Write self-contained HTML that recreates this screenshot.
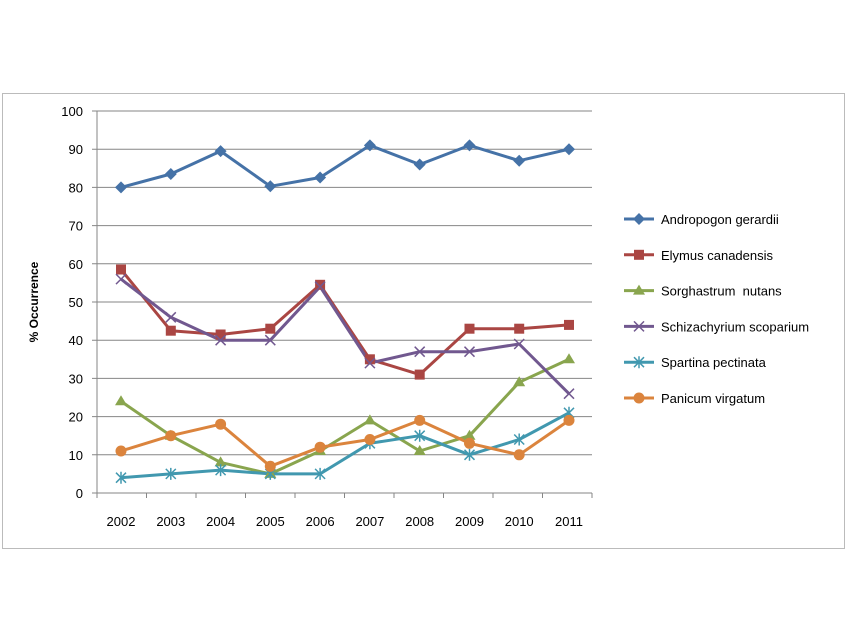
<!DOCTYPE html>
<html><head><style>body{margin:0;background:#fff}svg{display:block}text{font-family:"Liberation Sans",sans-serif;font-size:13px;fill:#000}</style></head>
<body>
<svg width="848" height="636" xmlns="http://www.w3.org/2000/svg">
<defs>
<path id="md" d="M0 -6l6 6-6 6-6-6z" fill="#4572A7"/>
<rect id="ms" x="-5" y="-5" width="10" height="10" fill="#AA4643"/>
<path id="mt" d="M0 -6l6 10h-12z" fill="#89A54E"/>
<path id="mx" d="M-5 -5l10 10m0-10l-10 10" stroke="#71588F" stroke-width="1.5"/>
<path id="ma" d="M-5 -5l10 10m0-10l-10 10M0 -6v12" stroke="#4198AF" stroke-width="1.5"/>
<circle id="mc" r="5.5" fill="#DB843D"/>
</defs>
<rect x="2.5" y="93.5" width="842" height="455" fill="#fff" stroke="#bbb"/>
<g stroke="#868686" stroke-width="1">
<path d="M97 454.8H592M97 416.6H592M97 378.4H592M97 340.2H592M97 302H592M97 263.8H592M97 225.6H592M97 187.4H592M97 149.2H592M97 111H592"/>
<path d="M92 493H592M92 454.8H97M92 416.6H97M92 378.4H97M92 340.2H97M92 302H97M92 263.8H97M92 225.6H97M92 187.4H97M92 149.2H97M92 111H97M97 111V498"/>
<path d="M146.5 493v5M196 493v5M245.5 493v5M295 493v5M344.5 493v5M394 493v5M443.5 493v5M493 493v5M542.5 493v5M592 493v5"/>
</g>
<g text-anchor="end">
<text x="83" y="498">0</text><text x="83" y="459.8">10</text><text x="83" y="421.6">20</text><text x="83" y="383.4">30</text><text x="83" y="345.2">40</text><text x="83" y="307">50</text><text x="83" y="268.8">60</text><text x="83" y="230.6">70</text><text x="83" y="192.4">80</text><text x="83" y="154.2">90</text><text x="83" y="116">100</text>
</g>
<g text-anchor="middle">
<text x="121" y="526">2002</text><text x="170.8" y="526">2003</text><text x="220.6" y="526">2004</text><text x="270.3" y="526">2005</text><text x="320.1" y="526">2006</text><text x="369.9" y="526">2007</text><text x="419.7" y="526">2008</text><text x="469.5" y="526">2009</text><text x="519.2" y="526">2010</text><text x="569" y="526">2011</text>
</g>
<text transform="translate(38,302) rotate(-90)" text-anchor="middle" style="font-weight:bold;font-size:12px">% Occurrence</text>
<g fill="none" stroke-width="3" stroke-linejoin="round">
<polyline stroke="#4572A7" points="121,187.4 170.8,174 220.6,151.1 270.3,186.3 320.1,177.5 369.9,145.4 419.7,164.5 469.5,145.4 519.2,160.7 569,149.2"/>
<polyline stroke="#AA4643" points="121,269.5 170.8,330.7 220.6,334.5 270.3,328.7 320.1,284.8 369.9,359.3 419.7,374.6 469.5,328.7 519.2,328.7 569,324.9"/>
<polyline stroke="#89A54E" points="121,401.3 170.8,435.7 220.6,462.4 270.3,473.9 320.1,451 369.9,420.4 419.7,451 469.5,435.7 519.2,382.2 569,359.3"/>
<polyline stroke="#71588F" points="121,279.1 170.8,317.3 220.6,340.2 270.3,340.2 320.1,286.7 369.9,363.1 419.7,351.7 469.5,351.7 519.2,344 569,393.7"/>
<polyline stroke="#4198AF" points="121,477.7 170.8,473.9 220.6,470.1 270.3,473.9 320.1,473.9 369.9,443.3 419.7,435.7 469.5,454.8 519.2,439.5 569,412.8"/>
<polyline stroke="#DB843D" points="121,451 170.8,435.7 220.6,424.2 270.3,466.3 320.1,447.2 369.9,439.5 419.7,420.4 469.5,443.3 519.2,454.8 569,420.4"/>
</g>
<use href="#md" x="121" y="187.4"/><use href="#md" x="170.8" y="174"/><use href="#md" x="220.6" y="151.1"/><use href="#md" x="270.3" y="186.3"/><use href="#md" x="320.1" y="177.5"/><use href="#md" x="369.9" y="145.4"/><use href="#md" x="419.7" y="164.5"/><use href="#md" x="469.5" y="145.4"/><use href="#md" x="519.2" y="160.7"/><use href="#md" x="569" y="149.2"/>
<use href="#ms" x="121" y="269.5"/><use href="#ms" x="170.8" y="330.7"/><use href="#ms" x="220.6" y="334.5"/><use href="#ms" x="270.3" y="328.7"/><use href="#ms" x="320.1" y="284.8"/><use href="#ms" x="369.9" y="359.3"/><use href="#ms" x="419.7" y="374.6"/><use href="#ms" x="469.5" y="328.7"/><use href="#ms" x="519.2" y="328.7"/><use href="#ms" x="569" y="324.9"/>
<use href="#mt" x="121" y="401.3"/><use href="#mt" x="170.8" y="435.7"/><use href="#mt" x="220.6" y="462.4"/><use href="#mt" x="270.3" y="473.9"/><use href="#mt" x="320.1" y="451"/><use href="#mt" x="369.9" y="420.4"/><use href="#mt" x="419.7" y="451"/><use href="#mt" x="469.5" y="435.7"/><use href="#mt" x="519.2" y="382.2"/><use href="#mt" x="569" y="359.3"/>
<use href="#mx" x="121" y="279.1"/><use href="#mx" x="170.8" y="317.3"/><use href="#mx" x="220.6" y="340.2"/><use href="#mx" x="270.3" y="340.2"/><use href="#mx" x="320.1" y="286.7"/><use href="#mx" x="369.9" y="363.1"/><use href="#mx" x="419.7" y="351.7"/><use href="#mx" x="469.5" y="351.7"/><use href="#mx" x="519.2" y="344"/><use href="#mx" x="569" y="393.7"/>
<use href="#ma" x="121" y="477.7"/><use href="#ma" x="170.8" y="473.9"/><use href="#ma" x="220.6" y="470.1"/><use href="#ma" x="270.3" y="473.9"/><use href="#ma" x="320.1" y="473.9"/><use href="#ma" x="369.9" y="443.3"/><use href="#ma" x="419.7" y="435.7"/><use href="#ma" x="469.5" y="454.8"/><use href="#ma" x="519.2" y="439.5"/><use href="#ma" x="569" y="412.8"/>
<use href="#mc" x="121" y="451"/><use href="#mc" x="170.8" y="435.7"/><use href="#mc" x="220.6" y="424.2"/><use href="#mc" x="270.3" y="466.3"/><use href="#mc" x="320.1" y="447.2"/><use href="#mc" x="369.9" y="439.5"/><use href="#mc" x="419.7" y="420.4"/><use href="#mc" x="469.5" y="443.3"/><use href="#mc" x="519.2" y="454.8"/><use href="#mc" x="569" y="420.4"/>
<g stroke-width="3">
<line x1="624" x2="654" y1="219" y2="219" stroke="#4572A7"/>
<line x1="624" x2="654" y1="254.8" y2="254.8" stroke="#AA4643"/>
<line x1="624" x2="654" y1="290.6" y2="290.6" stroke="#89A54E"/>
<line x1="624" x2="654" y1="326.4" y2="326.4" stroke="#71588F"/>
<line x1="624" x2="654" y1="362.2" y2="362.2" stroke="#4198AF"/>
<line x1="624" x2="654" y1="398" y2="398" stroke="#DB843D"/>
</g>
<use href="#md" x="639" y="219"/><use href="#ms" x="639" y="254.8"/><use href="#mt" x="639" y="290.6"/><use href="#mx" x="639" y="326.4"/><use href="#ma" x="639" y="362.2"/><use href="#mc" x="639" y="398"/>
<text x="661" y="224">Andropogon gerardii</text>
<text x="661" y="259.8">Elymus canadensis</text>
<text x="661" y="295.6" xml:space="preserve">Sorghastrum  nutans</text>
<text x="661" y="331.4">Schizachyrium scoparium</text>
<text x="661" y="367.2">Spartina pectinata</text>
<text x="661" y="403">Panicum virgatum</text>
</svg>
</body></html>
